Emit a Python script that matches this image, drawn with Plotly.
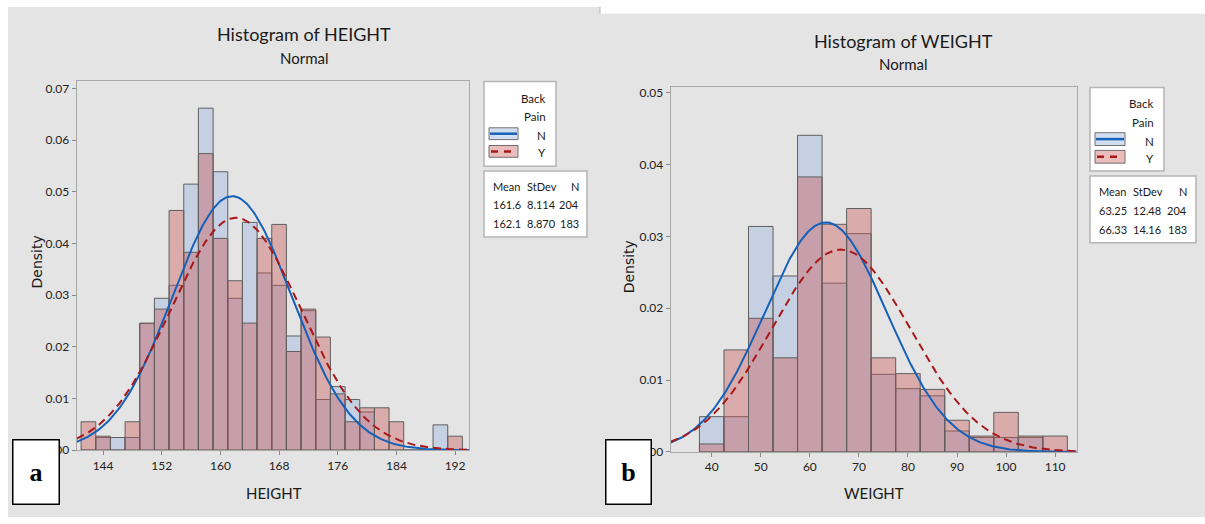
import numpy as np
import plotly.graph_objects as go

# ---------------- data ----------------
height_bins = [142, 144, 146, 148, 150, 152, 154, 156, 158, 160, 162, 164, 166,
               168, 170, 172, 174, 176, 178, 180, 182, 184, 186, 188, 190, 192]
height_N = [0, 0.00245, 0.00245, 0.00245, 0.0245, 0.0294, 0.0319, 0.0515, 0.0662,
            0.0539, 0.0294, 0.0441, 0.0343, 0.0319, 0.0221, 0.0270, 0.0098, 0.0123,
            0.0098, 0.0074, 0, 0, 0, 0, 0.0049, 0]
height_Y = [0.0055, 0.0027, 0, 0.0055, 0.0246, 0.0273, 0.0464, 0.0383, 0.0574,
            0.0410, 0.0328, 0.0246, 0.0410, 0.0437, 0.0191, 0.0273, 0.0219, 0.0109,
            0.0055, 0.0082, 0.0082, 0.0055, 0, 0, 0, 0.0027]

weight_bins = [40, 45, 50, 55, 60, 65, 70, 75, 80, 85, 90, 95, 100, 105, 110]
weight_N = [0.0049, 0.0049, 0.0314, 0.0245, 0.0441, 0.0235, 0.0304, 0.0108,
            0.0088, 0.0078, 0.0029, 0.0020, 0.0020, 0.0020, 0]
weight_Y = [0.0011, 0.0142, 0.0186, 0.0131, 0.0383, 0.0317, 0.0339, 0.0131,
            0.0109, 0.0087, 0.0044, 0.0022, 0.0055, 0.0022, 0.0022]

groups = ["N", "Y"]
height_mean = [161.6, 162.1]
height_sd = [8.114, 8.870]
height_n = [204, 183]
weight_mean = [63.25, 66.33]
weight_sd = [12.48, 14.16]
weight_n = [204, 183]

# ---------------- styling ----------------
W, H = 1205, 524
FONT = "Segoe UI, Lato, sans-serif"
BLUE_FILL = "rgba(150,180,225,0.4)"
PINK_FILL = "rgba(202,85,85,0.4)"
BLUE_LINE = "#1560b8"
RED_LINE = "#a81818"
EDGE = "rgba(95,95,95,1)"
BG = "#e4e4e4"


def px(x):
    return x / W


def py(y):
    return 1 - y / H


def normal_pdf(x, m, s):
    return np.exp(-0.5 * ((x - m) / s) ** 2) / (s * np.sqrt(2 * np.pi))


fig = go.Figure()

panels = [
    dict(xa="x", ya="y", bins=height_bins, vN=height_N, vY=height_Y, width=2,
         mean=height_mean, sd=height_sd, n=height_n, xr=[140.4, 193.9], yr=[0, 0.0714],
         dom_x=[76.7, 469], dom_y=[80.7, 456], tick0=144, dtick=8,
         title="Histogram of HEIGHT", tx=304, ty=33, sy=57, xlabel="HEIGHT", xlx=274,
         dlx=37, dly=265, leg=(484, 81, 556, 167), legtx=548, legy=[98, 117, 136, 153],
         sym=(489, 518, 128, 140, 146, 158), stat=(484, 172, 587, 239),
         cols=(491, 525, 581), rows=[188, 206, 225], lab="a", labx=(12, 59)),
    dict(xa="x2", ya="y2", bins=weight_bins, vN=weight_N, vY=weight_Y, width=5,
         mean=weight_mean, sd=weight_sd, n=weight_n, xr=[31.64, 114.4], yr=[0, 0.0508],
         dom_x=[670.7, 1076.7], dom_y=[86.7, 457.7], tick0=40, dtick=10,
         title="Histogram of WEIGHT", tx=903, ty=40, sy=63, xlabel="WEIGHT", xlx=874,
         dlx=629, dly=270, leg=(1090, 87, 1164, 172), legtx=1156, legy=[103, 123, 142, 159],
         sym=(1095, 1125, 133, 146, 151, 164), stat=(1090, 177, 1196, 245),
         cols=(1097, 1131, 1189), rows=[193, 212, 231], lab="b", labx=(605, 651)),
]

shapes = []
annotations = []

# panel backgrounds
shapes.append(dict(type="rect", xref="paper", yref="paper", x0=px(8), x1=px(600),
                   y0=py(524), y1=py(5), fillcolor=BG, line=dict(width=0), layer="below"))
shapes.append(dict(type="rect", xref="paper", yref="paper", x0=px(600), x1=px(1205),
                   y0=py(524), y1=py(12), fillcolor=BG, line=dict(width=0), layer="below"))
shapes.append(dict(type="line", xref="paper", yref="paper", x0=px(600), x1=px(600),
                   y0=py(12), y1=py(5), line=dict(color="#b8b8b8", width=1), layer="below"))

for i, p in enumerate(panels):
    # bars
    fig.add_trace(go.Bar(x=p["bins"], y=p["vN"], width=p["width"], xaxis=p["xa"], yaxis=p["ya"],
                         marker=dict(color=BLUE_FILL, line=dict(color=EDGE, width=1)),
                         showlegend=False, hoverinfo="skip"))
    fig.add_trace(go.Bar(x=p["bins"], y=p["vY"], width=p["width"], xaxis=p["xa"], yaxis=p["ya"],
                         marker=dict(color=PINK_FILL, line=dict(color=EDGE, width=1)),
                         showlegend=False, hoverinfo="skip"))
    # fitted normal curves
    xs = np.linspace(p["xr"][0], p["xr"][1], 300)
    fig.add_trace(go.Scatter(x=xs, y=normal_pdf(xs, p["mean"][0], p["sd"][0]),
                             xaxis=p["xa"], yaxis=p["ya"], mode="lines",
                             line=dict(color=BLUE_LINE, width=2), showlegend=False,
                             hoverinfo="skip"))
    fig.add_trace(go.Scatter(x=xs, y=normal_pdf(xs, p["mean"][1], p["sd"][1]),
                             xaxis=p["xa"], yaxis=p["ya"], mode="lines",
                             line=dict(color=RED_LINE, width=2, dash="8px,5px"),
                             showlegend=False, hoverinfo="skip"))

    # titles
    annotations.append(dict(text=p["title"], x=px(p["tx"]), y=py(p["ty"]), xref="paper",
                            yref="paper", showarrow=False, xanchor="center", yanchor="middle",
                            font=dict(family=FONT, size=18, color="#1a1a1a")))
    annotations.append(dict(text="Normal", x=px(p["tx"]), y=py(p["sy"]), xref="paper",
                            yref="paper", showarrow=False, xanchor="center", yanchor="middle",
                            font=dict(family=FONT, size=15, color="#1a1a1a")))
    annotations.append(dict(text=p["xlabel"], x=px(p["xlx"]), y=py(500), xref="paper",
                            yref="paper", showarrow=False, xanchor="center", yanchor="middle",
                            font=dict(family=FONT, size=15, color="#1a1a1a")))
    annotations.append(dict(text="Density", x=px(p["dlx"]), y=py(p["dly"]), xref="paper",
                            yref="paper", showarrow=False, xanchor="center", yanchor="middle",
                            textangle=-90,
                            font=dict(family="DejaVu Sans, sans-serif", size=14, color="#1a1a1a")))

    # legend box
    lx0, ly0, lx1, ly1 = p["leg"]
    shapes.append(dict(type="rect", xref="paper", yref="paper", x0=px(lx0), x1=px(lx1),
                       y0=py(ly1), y1=py(ly0), fillcolor="white",
                       line=dict(color="#b4b4b4", width=1.5), layer="above"))
    for txt, yy in zip(["Back", "Pain"] + groups, p["legy"]):
        annotations.append(dict(text=txt, x=px(p["legtx"]), y=py(yy), xref="paper",
                                yref="paper", showarrow=False, xanchor="right",
                                yanchor="middle",
                                font=dict(family=FONT, size=11.5, color="#1a1a1a")))
    sx0, sx1, a0, a1, b0, b1 = p["sym"]
    shapes.append(dict(type="rect", xref="paper", yref="paper", x0=px(sx0), x1=px(sx1),
                       y0=py(a1), y1=py(a0), fillcolor="rgb(210,222,240)",
                       line=dict(color="#707070", width=1), layer="above"))
    shapes.append(dict(type="line", xref="paper", yref="paper", x0=px(sx0 + 1), x1=px(sx1 - 1),
                       y0=py((a0 + a1) / 2), y1=py((a0 + a1) / 2),
                       line=dict(color=BLUE_LINE, width=2.5), layer="above"))
    shapes.append(dict(type="rect", xref="paper", yref="paper", x0=px(sx0), x1=px(sx1),
                       y0=py(b1), y1=py(b0), fillcolor="rgb(234,188,188)",
                       line=dict(color="#707070", width=1), layer="above"))
    shapes.append(dict(type="line", xref="paper", yref="paper", x0=px(sx0 + 2), x1=px(sx1 - 2),
                       y0=py((b0 + b1) / 2), y1=py((b0 + b1) / 2),
                       line=dict(color=RED_LINE, width=2.5, dash="7px,6px"), layer="above"))

    # stats box
    tx0, ty0, tx1, ty1 = p["stat"]
    shapes.append(dict(type="rect", xref="paper", yref="paper", x0=px(tx0), x1=px(tx1),
                       y0=py(ty1), y1=py(ty0), fillcolor="white",
                       line=dict(color="#b4b4b4", width=1.5), layer="above"))
    c1, c2, c3 = p["cols"]
    rows_txt = [("Mean", "StDev", "N")] + [
        (f"{p['mean'][k]}", f"{p['sd'][k]:.3f}" if p["sd"][k] < 10 else f"{p['sd'][k]:.2f}",
         f"{p['n'][k]}") for k in range(2)]
    for (t1, t2, t3), yy in zip(rows_txt, p["rows"]):
        for t, xx, anc in ((t1, c1, "left"), (t2, c2, "left"), (t3, c3, "right")):
            annotations.append(dict(text=t, x=px(xx), y=py(yy), xref="paper", yref="paper",
                                    showarrow=False, xanchor=anc, yanchor="middle",
                                    font=dict(family=FONT, size=11, color="#1a1a1a")))

    # panel label box
    lb0, lb1 = p["labx"]
    annotations.append(dict(text="<b>" + p["lab"] + "</b>", x=px((lb0 + lb1) / 2), y=py(478),
                            xref="paper", yref="paper", showarrow=False, xanchor="center",
                            yanchor="middle", width=lb1 - lb0 - 2, height=63, borderpad=0,
                            bgcolor="white", bordercolor="black", borderwidth=1.5,
                            font=dict(family="Liberation Serif, serif", size=26, color="black")))

axis_common = dict(showline=True, linecolor="#a8a8a8", linewidth=1, mirror=True,
                   ticks="outside", ticklen=4, tickcolor="#888888", showgrid=False,
                   zeroline=False, tickfont=dict(family=FONT, size=12, color="#222222"))

layout = dict(width=W, height=H, autosize=False, margin=dict(l=0, r=0, t=0, b=0),
              paper_bgcolor="white", plot_bgcolor="white", barmode="overlay",
              showlegend=False, shapes=shapes, annotations=annotations)

for i, p in enumerate(panels):
    sfx = "" if i == 0 else "2"
    layout["xaxis" + sfx] = dict(domain=[px(p["dom_x"][0]), px(p["dom_x"][1])],
                                 range=p["xr"], anchor="y" + sfx, tick0=p["tick0"],
                                 dtick=p["dtick"], **axis_common)
    layout["yaxis" + sfx] = dict(domain=[py(p["dom_y"][1]), py(p["dom_y"][0])],
                                 range=p["yr"], anchor="x" + sfx, tick0=0, dtick=0.01,
                                 tickformat=".2f", **axis_common)

fig.update_layout(**layout)
fig.write_html("out.html", config={"displayModeBar": False},
               post_script="document.body.style.margin='0';")
